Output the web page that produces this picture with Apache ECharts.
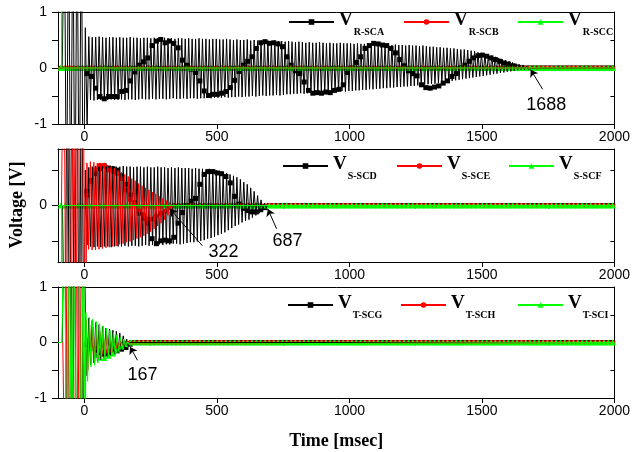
<!DOCTYPE html>
<html><head><meta charset="utf-8">
<script src="https://cdn.jsdelivr.net/npm/echarts@6/dist/echarts.min.js"></script>
<style>html,body{margin:0;padding:0;background:#fff}#c{width:633px;height:452px}</style>
</head><body><div id="c"></div>
<script>
// ---------- axes / ticks ----------
const X_MIN = -100, X_MAX = 2000;
const X_MAJOR = [0, 500, 1000, 1500, 2000];
const X_MINOR = [250, 750, 1250, 1750];
const Y_RANGES = [[-1, 1], [-0.8, 0.8], [-1, 1]];
const Y_LABELS = [[-1, 0, 1], [0], [-1, 0, 1]];
const Y_TICKS = [[-1, -0.5, 0, 0.5, 1], [-0.5, 0, 0.5], [-1, -0.5, 0, 0.5, 1]];

// ---------- series names (legend subscripts) ----------
const NAMES = [['R-SCA', 'R-SCB', 'R-SCC'], ['S-SCD', 'S-SCE', 'S-SCF'], ['T-SCG', 'T-SCH', 'T-SCI']];
const COLORS = ['#000000', '#ff0000', '#00ff00'];
const SYMBOLS = ['rect', 'circle', 'triangle'];

// ---------- sampling of the recorded traces ----------
const CYCLE = 13;          // ms per oscillation cycle (read from stripe spacing)
const MARK_T0 = 9;         // first plotted marker (ms)
const MARK_STEP = 16.4;    // ms between plotted markers

// ---------- Panel 1 (R) ----------
const P1A_preT = [-84, -76, -68, -60, -52, -44, -36, -28, -20, -12, -5];
const P1A_preV = [0, 3, -3, 3, -3, 3, -3, 3, -3, 3, -3];
const P1A_start = 0;
const P1A_up = [72,56,55,55,56,55,54,55,55,54,55,54,54,55,54,54,53,54,54,53,
  54,53,53,54,53,53,52,53,53,52,53,52,52,53,52,52,51,52,52,
  51,51,52,51,50,51,50,50,51,49,50,49,49,50,49,48,49,48,48,
  47,48,47,46,47,46,45,46,45,45,46,45,44,45,44,44,45,44,44,
  44,43,44,43,43,44,43,43,42,43,42,42,41,42,41,41,40,41,40,40,
  39,40,39,38,38,37,37,36,36,35,35,34,33,33,32,
  31,30,28,27,25,24,22,20,18,16,14,12,10,8,6,4,3,1];
const P1A_lo = [-108,-57,-58,-57,-57,-58,-57,-56,-57,-57,-56,-57,-56,-56,-57,-56,-55,-56,-56,-55,
  -56,-55,-55,-56,-55,-54,-55,-55,-54,-55,-54,-54,-55,-54,-54,-53,-54,-53,-53,
  -53,-52,-53,-52,-52,-51,-52,-51,-51,-50,-51,-50,-49,-50,-49,-49,-48,-49,-48,
  -47,-47,-46,-46,-45,-46,-45,-44,-45,-44,-43,-44,-43,-42,-43,-42,-41,-42,-41,
  -41,-40,-40,-39,-39,-38,-38,-37,-37,-36,-36,-35,-35,-34,-34,-33,-33,-32,-32,-31,
  -30,-30,-29,-28,-28,-27,-26,-25,-24,-23,-22,-21,-20,-19,-18,
  -17,-16,-15,-14,-13,-12,-11,-10,-9,-8,-7,-6,-5,-4,-3,-3,-2,-1];
const P1A_mark = [-10,-15,-36,-51,-55,-51,-51,-51,-42,-40,-23,-7,5,11,18,40,48,51,45,48,44,36,14,5,-2,-8,-23,-41,-49,-47,-47,
  -45,-42,-35,-22,-6,5,12,20,35,45,47,44,45,43,38,20,5,-5,-10,-25,-40,-45,-44,-45,-43,-44,-40,-38,-30,-8,
  0,10,20,35,40,44,43,41,40,35,27,15,4,-5,-10,-14,-30,-35,-36,-34,-32,-27,-23,-15,-10,0,5,12,18,22,23,21,18,15,12,9,7,4,2,1,0,0];
const P1B_spikeT = [], P1B_spikeV = [];
const P1C_spikeT = [-86.6, -86.3, -86], P1C_spikeV = [0, 3, 0];

// ---------- Panel 2 (S) ----------
const P2A_preT = [-83, -74, -65, -56, -47, -38, -29, -20, -11, -2];
const P2A_preV = [0, -3, 3, -3, 3, -3, 3, -3, 3, -3];
const P2A_start = 0;
const P2A_up = [50,54,55,56,55,56,55,55,56,55, 55,56,55,55,54,55,55,54,55,54,
  54,55,54,54,53,54,53,54,53,53, 53,52,53,52,52,51,52,51,50,49,
  47,46,44,42,40,37,33,30,25,20,14,8,3];
const P2A_lo = [-56,-58,-59,-58,-59,-58,-58,-59,-58,-58, -58,-57,-58,-57,-57,-58,-57,-56,-57,-56,
  -56,-55,-56,-55,-55,-54,-54,-55,-54,-53, -52,-52,-51,-50,-49,-47,-46,-44,-42,-40,
  -38,-35,-32,-29,-27,-24,-22,-20,-17,-14,-11,-7,-4];
const P2A_mark = [20,35,45,52,56,53,52,50,42,30,15,4,-11,-18,-25,-47,-54,-50,-49,-50,-45,-25,-10,0,6,10,30,44,48,48,46,45,41,32,13,2,-4,-7,-9,-9,-6,-3];
const P2B_preT = [-87, -78, -69, -60, -51, -42, -33, -24, -15, -6, 3];
const P2B_preV = [0, 3, -3, 3, -3, 3, -3, 3, -3, 3, -3];
const P2B_start = 6;
const P2B_up = [60,62,61,60,59,58,57,55,53,50,47,44,41,38,35,31,28,25,22,19,16,13,10,7,4];
const P2B_lo = [-62,-63,-63,-62,-61,-60,-59,-58,-57,-55,-54,-52,-51,-49,-47,-45,-43,-40,-37,-33,-29,-25,-20,-14,-8];
const P2B_mark = [14,34,51,57,57,50,48,45,38,22,8,1,-6,-13,-19,-19,-15,-11,-8,-3];
const P2C_spikeT = [-86.3, -86, -85.7], P2C_spikeV = [0, -3, 0];

// ---------- Panel 3 (T) ----------
const P3A_preT = [-84, -75, -66, -57, -48, -39, -30, -21, -12, -3];
const P3A_preV = [0, 3, -3, 3, -3, 3, -3, 3, -3, 3];
const P3A_start = 0;
const P3A_up = [50,44,40,36,32,29,26,24,22,20,17,12,6];
const P3A_lo = [-60,-40,-37,-34,-31,-28,-25,-22,-20,-18,-15,-12,-8];
const P3A_mark = [-5,-10,-14,-19,-21,-20,-18,-15,-12,-9,-3];
const P3B_preT = [-82, -73, -64, -55, -46, -37, -28, -19, -10, -1];
const P3B_preV = [0, -3, 3, -3, 3, -3, 3, -3, 3, -3];
const P3B_start = 3;
const P3B_up = [40,32,28,24,20,16,13,10,8,6,4,2,1];
const P3B_lo = [-50,-38,-34,-30,-27,-24,-21,-18,-15,-12,-9,-6,-3];
const P3B_mark = [0,-5,-10,-15,-17,-14,-10,-6,-3,-1];
const P3C_preT = [-85, -76, -67, -58, -49, -40, -31, -22, -13, -4, 3];
const P3C_preV = [0, 3, -3, 3, -3, 3, -3, 3, -3, 3, -3];
const P3C_start = 2;
const P3C_up = [54,46,42,38,34,30,26,22,18,14,10,6,2];
const P3C_lo = [-70,-44,-41,-37,-33,-30,-26,-23,-20,-16,-12,-8,-3];
const P3C_mark = [5,-10,-22,-27,-28,-24,-20,-13,-7,-3,0];

// ---------- annotations (data coords) ----------
const ANNOTS = [
  {panel: 0, text: '1688', label: [1743, -0.66], from: [1729, -0.38], to: [1684, -0.03]},
  {panel: 1, text: '322', label: [525, -0.66], from: [445, -0.57], to: [323, -0.05]},
  {panel: 1, text: '687', label: [766, -0.51], from: [725, -0.33], to: [692, -0.05]},
  {panel: 2, text: '167', label: [219, -0.58], from: [200, -0.32], to: [172, -0.08]}
];

// ---------- builders ----------
function trace(preT, preV, start, up, lo) {
  const d = [[X_MIN, 0]];
  for (let i = 0; i < preT.length; i++) d.push([preT[i], preV[i]]);
  for (let i = 0; i < up.length; i++) {
    d.push([start + CYCLE * i + CYCLE / 4, up[i] / 100]);
    d.push([start + CYCLE * i + 3 * CYCLE / 4, lo[i] / 100]);
  }
  d.push([start + CYCLE * up.length, 0]);
  d.push([X_MAX, 0]);
  return d;
}
function flat(spT, spV) {
  const d = [[X_MIN, 0]];
  for (let i = 0; i < spT.length; i++) d.push([spT[i], spV[i]]);
  d.push([X_MAX, 0]);
  return d;
}
function markers(vals, kStart) {
  const d = [];
  for (let j = 0; j < vals.length; j++) d.push([MARK_T0 + MARK_STEP * (kStart + j), vals[j] / 100]);
  let k = kStart + vals.length;
  while (MARK_T0 + MARK_STEP * k <= X_MAX) { d.push([MARK_T0 + MARK_STEP * k, 0]); k++; }
  return d;
}

const PANELS = [
  {lines: [trace(P1A_preT, P1A_preV, P1A_start, P1A_up, P1A_lo), flat(P1B_spikeT, P1B_spikeV), flat(P1C_spikeT, P1C_spikeV)],
   marks: [markers(P1A_mark, 0), markers([], -6), markers([], -6)]},
  {lines: [trace(P2A_preT, P2A_preV, P2A_start, P2A_up, P2A_lo), trace(P2B_preT, P2B_preV, P2B_start, P2B_up, P2B_lo), flat(P2C_spikeT, P2C_spikeV)],
   marks: [markers(P2A_mark, 0), markers(P2B_mark, 0), markers([], -6)]},
  {lines: [trace(P3A_preT, P3A_preV, P3A_start, P3A_up, P3A_lo), trace(P3B_preT, P3B_preV, P3B_start, P3B_up, P3B_lo), trace(P3C_preT, P3C_preV, P3C_start, P3C_up, P3C_lo)],
   marks: [markers(P3A_mark, 0), markers(P3B_mark, 0), markers(P3C_mark, 0)]}
];

// ---------- layout ----------
const GRIDS = [{left: 58, right: 18, top: 12, height: 112}, {left: 58, right: 18, top: 149, height: 113}, {left: 58, right: 18, top: 287, height: 111}];
const LEGEND_POS = [[[288, 24], [403, 24], [517, 24]], [[282, 168], [396, 168], [508, 168]], [[287, 307], [400, 307], [517, 307]]];
const NUM_FONT = 'Liberation Sans';
const SERIF = 'Liberation Serif';
const axisLineStyle = {color: '#000', width: 1};
const plain = v => String(v);

const xAxis = [], yAxis = [], series = [], legend = [];
GRIDS.forEach((g, p) => {
  xAxis.push({type: 'value', gridIndex: p, min: X_MIN, max: X_MAX, position: 'bottom',
    axisLine: {show: true, onZero: false, lineStyle: axisLineStyle},
    axisTick: {show: true, length: 5, lineStyle: axisLineStyle, customValues: X_MAJOR},
    axisLabel: {show: true, customValues: X_MAJOR, formatter: plain, color: '#000', fontFamily: NUM_FONT, fontSize: 14, margin: 6},
    splitLine: {show: false},
    name: p === 2 ? 'Time [msec]' : '', nameLocation: 'middle', nameGap: 34,
    nameTextStyle: {fontFamily: SERIF, fontWeight: 'bold', fontSize: 18, color: '#000'}});
  xAxis.push({type: 'value', gridIndex: p, min: X_MIN, max: X_MAX, position: 'bottom',
    axisLine: {show: false}, axisLabel: {show: false}, splitLine: {show: false},
    axisTick: {show: true, length: 3, lineStyle: axisLineStyle, customValues: X_MINOR}});
  xAxis.push({type: 'value', gridIndex: p, min: X_MIN, max: X_MAX, position: 'top',
    axisLine: {show: true, onZero: false, lineStyle: axisLineStyle}, axisLabel: {show: false},
    axisTick: {show: false}, splitLine: {show: false}});
  yAxis.push({type: 'value', gridIndex: p, min: Y_RANGES[p][0], max: Y_RANGES[p][1], position: 'left',
    axisLine: {show: true, onZero: false, lineStyle: axisLineStyle},
    axisTick: {show: true, length: 6, lineStyle: axisLineStyle, customValues: Y_TICKS[p]},
    axisLabel: {show: true, customValues: Y_LABELS[p], formatter: plain, color: '#000', fontFamily: NUM_FONT, fontSize: 14, margin: 11},
    splitLine: {show: false}});
  yAxis.push({type: 'value', gridIndex: p, min: Y_RANGES[p][0], max: Y_RANGES[p][1], position: 'right',
    axisLine: {show: true, onZero: false, lineStyle: axisLineStyle},
    axisTick: {show: true, inside: true, length: 4, lineStyle: axisLineStyle, customValues: Y_TICKS[p]},
    axisLabel: {show: false}, splitLine: {show: false}});

  for (let s = 0; s < 3; s++) {
    const name = NAMES[p][s];
    series.push({type: 'line', name, xAxisIndex: 3 * p, yAxisIndex: 2 * p, data: PANELS[p].lines[s],
      showSymbol: false, symbol: SYMBOLS[s], symbolSize: 6, clip: true, animation: false, silent: true,
      color: COLORS[s], lineStyle: {width: 1, color: COLORS[s]}, itemStyle: {color: COLORS[s]}});
    series.push({type: 'scatter', name, xAxisIndex: 3 * p, yAxisIndex: 2 * p, data: PANELS[p].marks[s],
      symbol: SYMBOLS[s], symbolSize: s === 2 ? 6 : 5, clip: true, animation: false, silent: true,
      itemStyle: {color: COLORS[s], opacity: 1}});
    const [lx, ly] = LEGEND_POS[p][s];
    legend.push({data: [name], left: lx, top: ly - 13, padding: 0, itemWidth: 45, itemHeight: 7, itemGap: 0,
      selectedMode: false, inactiveColor: COLORS[s],
      formatter: n => '{v|V}{s|' + n + '}',
      textStyle: {rich: {
        v: {fontFamily: SERIF, fontWeight: 'bold', fontSize: 19, lineHeight: 22, verticalAlign: 'top', color: '#000'},
        s: {fontFamily: SERIF, fontWeight: 'bold', fontSize: 10, lineHeight: 10, padding: [16, 0, 0, 1], verticalAlign: 'top', color: '#000'}
      }}});
  }
  const ann = ANNOTS.filter(a => a.panel === p);
  series.push({type: 'line', name: '', xAxisIndex: 3 * p, yAxisIndex: 2 * p, data: [], animation: false, silent: true,
    markLine: {silent: true, animation: false, symbol: ['none', 'arrow'], symbolSize: 7,
      lineStyle: {color: '#000', width: 1, type: 'solid'}, label: {show: false},
      data: ann.map(a => [{coord: a.from}, {coord: a.to}])},
    markPoint: {silent: true, animation: false, symbol: 'rect', symbolSize: 1, itemStyle: {color: 'rgba(0,0,0,0)'},
      label: {show: true, position: 'inside', color: '#000', fontFamily: NUM_FONT, fontSize: 18, formatter: q => q.name},
      data: ann.map(a => ({name: a.text, coord: a.label}))}});
});

const chart = echarts.init(document.getElementById('c'), null, {renderer: 'canvas'});
chart.setOption({
  animation: false,
  backgroundColor: '#fff',
  grid: GRIDS,
  xAxis, yAxis, series, legend,
  graphic: [{type: 'text', x: 17, y: 205, rotation: Math.PI / 2,
    style: {text: 'Voltage [V]', font: 'bold 18px "Liberation Serif"', fill: '#000', textAlign: 'center', textVerticalAlign: 'middle'}}]
});
</script></body></html>
